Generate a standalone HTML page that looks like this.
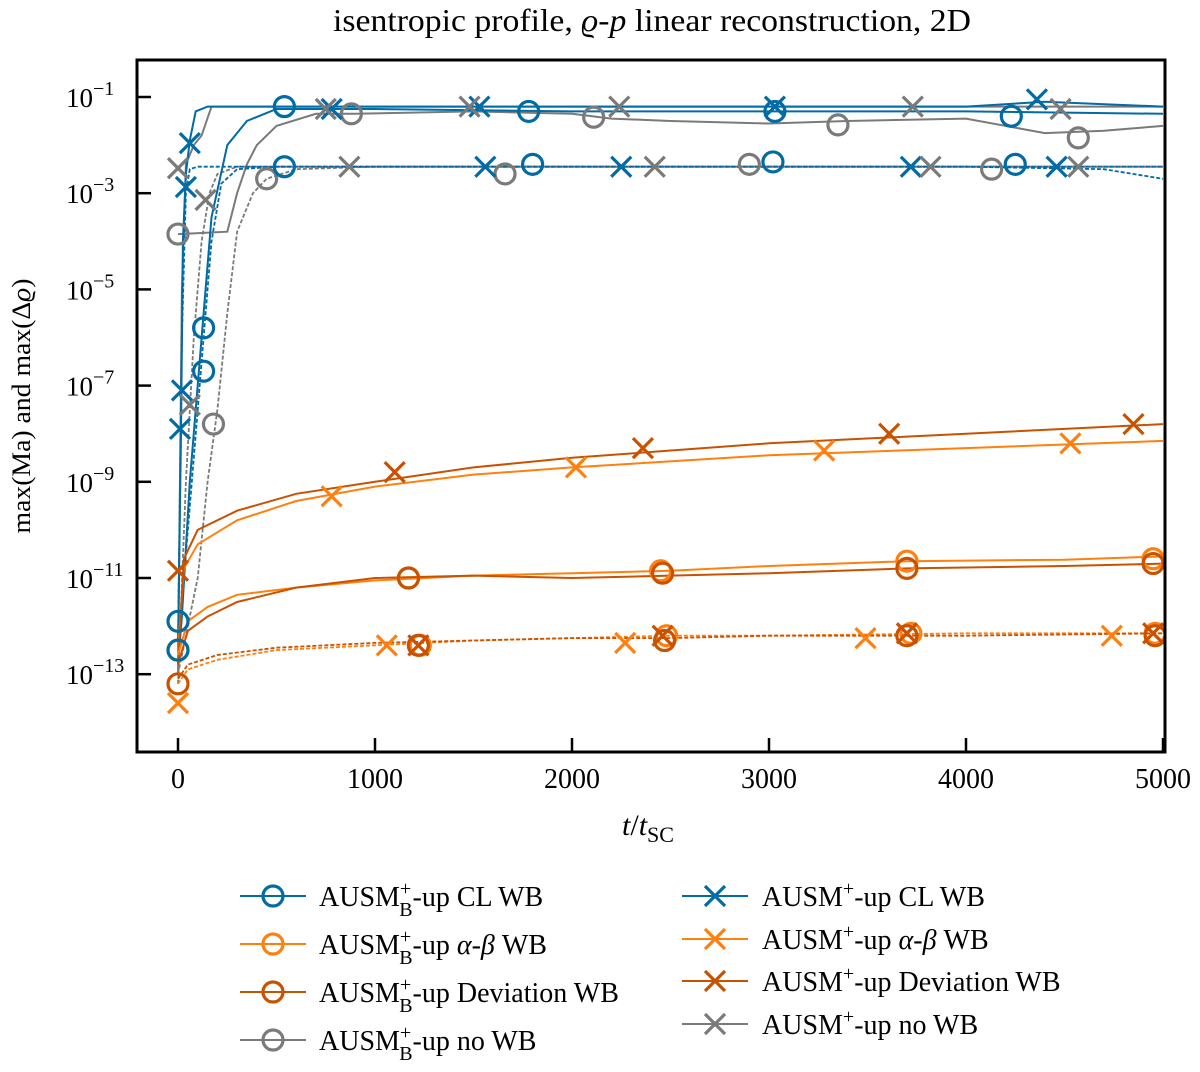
<!DOCTYPE html>
<html><head><meta charset="utf-8">
<style>
body{margin:0;background:#fff;}
svg{display:block;font-family:"Liberation Serif",serif;}
</style></head>
<body>
<svg id="chart" width="1200" height="1072" viewBox="0 0 1200 1072" xmlns="http://www.w3.org/2000/svg">
<text x="652" y="31" font-size="32" text-anchor="middle" textLength="638" lengthAdjust="spacingAndGlyphs">isentropic profile, <tspan font-style="italic">ϱ</tspan>-<tspan font-style="italic">p</tspan> linear reconstruction, 2D</text>
<text transform="translate(30,406) rotate(-90)" font-size="26" text-anchor="middle" textLength="255" lengthAdjust="spacingAndGlyphs">max(Ma) and max(Δ<tspan font-style="italic">ϱ</tspan>)</text>
<text x="648" y="835" font-size="30" text-anchor="middle"><tspan font-style="italic">t</tspan>/<tspan font-style="italic">t</tspan><tspan font-size="22" dy="7">SC</tspan></text>
<g id="plot"></g>
<g id="axes"></g>
<g id="legend"></g>
</svg>
<script>
const xTicks=[0,1000,2000,3000,4000,5000];
const yTickExps=[-1,-3,-5,-7,-9,-11,-13];
const seriesNames=["AUSM_B CL WB","AUSM_B α-β WB","AUSM_B Deviation WB","AUSM_B no WB","AUSM CL WB","AUSM α-β WB","AUSM Deviation WB","AUSM no WB"];
const bcSolidT=[0,20,60,100,130,170,250,350,500,1000,2000,3000,4000,5000];
const bcSolidV=[-12.8,-11.8,-9,-7,-5.5,-3.5,-2,-1.5,-1.25,-1.25,-1.3,-1.3,-1.3,-1.35];
const bcDashT=[0,30,80,130,170,220,300,500,1000,2000,3000,4000,4700,5000];
const bcDashV=[-12.5,-11,-8.5,-6,-4,-2.8,-2.5,-2.45,-2.45,-2.45,-2.45,-2.45,-2.5,-2.7];
const bxSolidT=[0,15,25,40,60,90,150,500,1000,2000,3000,4000,4400,5000];
const bxSolidV=[-12.5,-8,-4,-2.6,-1.9,-1.3,-1.2,-1.2,-1.2,-1.2,-1.2,-1.2,-1.1,-1.2];
const bxDashT=[0,10,20,40,60,100,500,1000,2000,3000,4000,5000];
const bxDashV=[-12.3,-9,-6,-3,-2.5,-2.45,-2.45,-2.45,-2.45,-2.45,-2.45,-2.45];
const gcSolidT=[0,250,300,350,400,500,700,900,1500,2000,2200,2500,3000,3400,4000,4400,4700,5000];
const gcSolidV=[-3.85,-3.8,-3.0,-2.4,-2.0,-1.6,-1.35,-1.35,-1.3,-1.35,-1.45,-1.5,-1.55,-1.5,-1.45,-1.75,-1.7,-1.6];
const gcDashT=[0,100,150,200,250,300,380,450,600,1000,2000,3000,4000,5000];
const gcDashV=[-13,-11,-9,-7.5,-5.5,-3.8,-3.0,-2.7,-2.5,-2.45,-2.45,-2.45,-2.45,-2.45];
const gxSolidT=[0,20,40,80,120,170,500,1000,2000,3000,4000,5000];
const gxSolidV=[-13,-5,-2.4,-2.0,-1.8,-1.2,-1.2,-1.2,-1.2,-1.2,-1.2,-1.2];
const gxDashT=[0,40,80,120,160,200,300,1000,2000,3000,4000,5000];
const gxDashV=[-13.2,-9,-6,-4,-3.0,-2.6,-2.45,-2.45,-2.45,-2.45,-2.45,-2.45];
const oxSolidT=[0,30,100,300,600,1000,1500,2000,3000,4000,5000];
const oxSolidV=[-12.5,-10.8,-10.3,-9.8,-9.4,-9.1,-8.85,-8.7,-8.45,-8.3,-8.15];
const dxSolidT=[0,30,100,300,600,1000,1500,2000,3000,4000,5000];
const dxSolidV=[-12.8,-10.6,-10.0,-9.6,-9.25,-9.0,-8.7,-8.5,-8.2,-8.0,-7.8];
const ocSolidT=[0,50,150,300,600,1000,1500,2000,2500,3000,3700,4500,5000];
const ocSolidV=[-12.6,-11.9,-11.6,-11.35,-11.2,-11.05,-10.95,-10.9,-10.85,-10.75,-10.65,-10.62,-10.55];
const dcSolidT=[0,50,150,300,600,1000,1500,2000,2500,3000,3700,4500,5000];
const dcSolidV=[-12.8,-12.1,-11.8,-11.5,-11.2,-11.0,-10.95,-11.0,-10.95,-10.9,-10.8,-10.75,-10.7];
const odT=[0,50,200,500,1000,1500,2000,2500,3000,4000,5000];
const odV=[-13.2,-12.9,-12.7,-12.5,-12.4,-12.3,-12.25,-12.2,-12.2,-12.15,-12.15];
const dodT=[0,50,200,500,1000,1500,2000,2500,3000,4000,5000];
const dodV=[-13.1,-12.8,-12.6,-12.45,-12.35,-12.3,-12.25,-12.25,-12.2,-12.2,-12.15];
const bcMarkT=[0,0,130,130,540,1780,3030,4230],bcMarkV=[-11.9,-12.5,-5.8,-6.7,-1.2,-1.3,-1.3,-1.4];
const bcMark2T=[540,1800,3020,4250],bcMark2V=[-2.45,-2.4,-2.35,-2.4];
const bxMarkT=[20,10,40,60,780,1530,3030,4360],bxMarkV=[-7.1,-7.9,-2.87,-1.96,-1.25,-1.2,-1.2,-1.05];
const bxMark2T=[1560,2250,3720,4460],bxMark2V=[-2.45,-2.45,-2.45,-2.45];
const gcMarkT=[0,880,2110,3350,4570,180,450,1660,2900,4130],gcMarkV=[-3.85,-1.35,-1.42,-1.58,-1.85,-7.8,-2.7,-2.6,-2.4,-2.5];
const gxMarkT=[0,60,140,750,1480,2240,3730,4480,870,2420,3820,4570],gxMarkV=[-2.48,-7.4,-3.14,-1.25,-1.2,-1.2,-1.2,-1.25,-2.45,-2.45,-2.45,-2.45];
const oxMarkT=[0,780,2020,3280,4530,1060,2270,3490,4740],oxMarkV=[-13.6,-9.3,-8.7,-8.35,-8.2,-12.4,-12.35,-12.25,-12.2];
const dxMarkT=[0,1100,2360,3610,4850,1220,2460,3700,4950],dxMarkV=[-10.85,-8.8,-8.3,-8.0,-7.8,-12.4,-12.2,-12.15,-12.15];
const ocMarkT=[0,1170,2450,3700,4950,1230,2480,3720,4960],ocMarkV=[-12.5,-11.0,-10.85,-10.65,-10.6,-12.4,-12.2,-12.15,-12.15];
const dcMarkT=[0,1170,2460,3700,4950,1220,2470,3700,4960],dcMarkV=[-13.2,-11.0,-10.9,-10.8,-10.7,-12.4,-12.3,-12.2,-12.2];

const C={blue:"#006BA4",orange:"#FF800E",dark:"#C85200",gray:"#7a7a7a"};
const X0=137,X1=1165,Y0=60,Y1=752;
function xs(t){return 178+t*0.197;}
function ys(l){return 97+(-1-l)*48.1;}
const NS="http://www.w3.org/2000/svg";
const plot=document.getElementById('plot'),axes=document.getElementById('axes'),leg=document.getElementById('legend');
function mk(tag,attrs,parent){const e=document.createElementNS(NS,tag);for(const k in attrs)e.setAttribute(k,attrs[k]);parent.appendChild(e);return e;}
const clip=mk('clipPath',{id:'clp'},document.getElementById('chart'));
mk('rect',{x:X0,y:Y0,width:X1-X0,height:Y1-Y0},clip);
plot.setAttribute('clip-path','url(#clp)');
function line(T,V,color,dash,name){
  const p=mk('polyline',{points:T.map((t,i)=>xs(t).toFixed(1)+','+ys(V[i]).toFixed(1)).join(' '),fill:'none',stroke:color,'stroke-width':dash?1.8:2,'stroke-dasharray':dash?'4,2':'none'},plot);
  
  
}
function marker(cx,cy,type,color,parent,name){
  let e;
  if(type==='o'){e=mk('circle',{cx:cx,cy:cy,r:10,fill:'none',stroke:color,'stroke-width':3.2},parent);}
  else{e=mk('path',{d:`M${cx-10} ${cy-10}L${cx+10} ${cy+10}M${cx-10} ${cy+10}L${cx+10} ${cy-10}`,stroke:color,'stroke-width':3.2,fill:'none'},parent);}
  
  
}
function marks(T,V,type,color,name){T.forEach((t,i)=>marker(xs(t),ys(V[i]),type,color,plot,name));}

line(gcSolidT,gcSolidV,C.gray,false,'line-ausmb-nowb-ma');
line(gcDashT,gcDashV,C.gray,true,'line-ausmb-nowb-drho');
line(gxSolidT,gxSolidV,C.gray,false,'line-ausm-nowb-ma');
line(gxDashT,gxDashV,C.gray,true,'line-ausm-nowb-drho');
line(bcSolidT,bcSolidV,C.blue,false,'line-ausmb-cl-ma');
line(bcDashT,bcDashV,C.blue,true,'line-ausmb-cl-drho');
line(bxSolidT,bxSolidV,C.blue,false,'line-ausm-cl-ma');
line(bxDashT,bxDashV,C.blue,true,'line-ausm-cl-drho');
line(oxSolidT,oxSolidV,C.orange,false,'line-ausm-ab-ma');
line(dxSolidT,dxSolidV,C.dark,false,'line-ausm-dev-ma');
line(ocSolidT,ocSolidV,C.orange,false,'line-ausmb-ab-ma');
line(dcSolidT,dcSolidV,C.dark,false,'line-ausmb-dev-ma');
line(odT,odV,C.orange,true,'line-ab-drho');
line(dodT,dodV,C.dark,true,'line-dev-drho');
marks(ocMarkT,ocMarkV,'o',C.orange,'marker-ausmb-ab');
marks(dcMarkT,dcMarkV,'o',C.dark,'marker-ausmb-dev');
marks(oxMarkT,oxMarkV,'x',C.orange,'marker-ausm-ab');
marks(dxMarkT,dxMarkV,'x',C.dark,'marker-ausm-dev');
marks(gcMarkT,gcMarkV,'o',C.gray,'marker-ausmb-nowb');
marks(bcMarkT,bcMarkV,'o',C.blue,'marker-ausmb-cl');
marks(bcMark2T,bcMark2V,'o',C.blue,'marker-ausmb-cl');
marks(bxMarkT,bxMarkV,'x',C.blue,'marker-ausm-cl');
marks(bxMark2T,bxMark2V,'x',C.blue,'marker-ausm-cl');
marks(gxMarkT,gxMarkV,'x',C.gray,'marker-ausm-nowb');

const fr=mk('rect',{x:X0,y:Y0,width:X1-X0,height:Y1-Y0,fill:'none',stroke:'#000','stroke-width':3},axes);


xTicks.forEach(t=>{
  const x=xs(t);
  mk('line',{x1:x,x2:x,y1:Y1,y2:Y1-14,stroke:'#000','stroke-width':2.5},axes);
  const tx=mk('text',{x:x,y:Y1+36,'font-size':28,'text-anchor':'middle'},axes);
  tx.textContent=t;
  
  
});
yTickExps.forEach(e=>{
  const y=ys(e);
  mk('line',{x1:X0,x2:X0+14,y1:y,y2:y,stroke:'#000','stroke-width':2.5},axes);
  const tx=mk('text',{x:66,y:y+10,'font-size':27},axes);
  
  
  tx.innerHTML='10<tspan font-size="20" dy="-12">−'+(-e)+'</tspan>';
});
const legL=[[C.blue,'CL WB'],[C.orange,'<tspan font-style="italic">α</tspan>-<tspan font-style="italic">β</tspan> WB'],[C.dark,'Deviation WB'],[C.gray,'no WB']];
const rowsL=[896,944,992,1040],rowsR=[896,939,981,1024];
legL.forEach((d,i)=>{
  const y=rowsL[i];
  const g=mk('g',{},leg);
  
  
  mk('line',{x1:240,x2:306,y1:y,y2:y,stroke:d[0],'stroke-width':2},g);
  marker(273,y,'o',d[0],g,'legend-marker');
  const t=mk('text',{x:319,y:y+10,'font-size':28},g);
  t.innerHTML='AUSM<tspan font-size="20" dy="-11">+</tspan><tspan font-size="20" dx="-12" dy="21">B</tspan><tspan dy="-10">-up '+d[1]+'</tspan>';
});
legL.forEach((d,i)=>{
  const y=rowsR[i];
  const g=mk('g',{},leg);
  
  
  mk('line',{x1:682,x2:748,y1:y,y2:y,stroke:d[0],'stroke-width':2},g);
  marker(715,y,'x',d[0],g,'legend-marker');
  const t=mk('text',{x:762,y:y+10,'font-size':28},g);
  t.innerHTML='AUSM<tspan font-size="20" dy="-11">+</tspan><tspan dy="11">-up '+d[1]+'</tspan>';
});
</script>
</body></html>
